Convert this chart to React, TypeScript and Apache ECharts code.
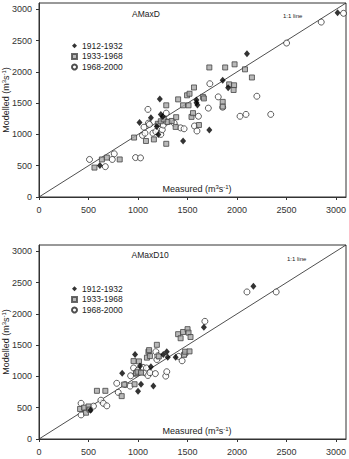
import React, { useEffect, useRef } from "react";
import * as echarts from "echarts";

// Annual maximum flows, measured vs modelled (m3/s), by period
const amaxd1912: number[][] = [
  [615, 505], [1015, 1190], [1130, 1265], [1190, 1125], [1205, 1000], [1220, 1565],
  [1230, 1320], [1250, 1285], [1455, 895], [1590, 1550], [1590, 1505], [1600, 1470],
  [1720, 1070], [1855, 1865], [1910, 1745], [2100, 2290], [3015, 2945],
];
const amaxd1933: number[][] = [
  [560, 470], [635, 600], [685, 630], [815, 600], [960, 950], [1080, 895], [1160, 920],
  [1285, 850], [1285, 1465], [1200, 1170], [1230, 1210], [1260, 1240], [1300, 1200],
  [1340, 1215], [1385, 1275], [1380, 1120], [1405, 1560], [1455, 1465], [1510, 1465],
  [1495, 1625], [1520, 1650], [1540, 1280], [1555, 1340], [1565, 1750], [1615, 1150],
  [1655, 1600], [1665, 1575], [1720, 2070], [1855, 1520], [1855, 1445], [1880, 2070],
  [1920, 1800], [1970, 1785], [1965, 1710], [1975, 2120], [2080, 2040], [2150, 1910],
];
const amaxd1968: number[][] = [
  [510, 600], [670, 485], [740, 600], [760, 690], [975, 630], [1025, 625], [1045, 985],
  [1060, 1115], [1070, 1020], [1100, 1400], [1105, 1180], [1115, 1160], [1150, 1020],
  [1180, 1045], [1230, 1000], [1245, 1075], [1255, 1150], [1285, 1340], [1290, 1200],
  [1365, 1180], [1430, 1105], [1465, 1090], [1570, 1135], [1595, 1055], [1610, 1290],
  [1710, 1420], [1725, 1810], [1810, 1600], [1855, 1435], [2030, 1290], [2090, 1320],
  [2200, 1610], [2340, 1320], [2500, 2460], [2850, 2795], [3075, 2935],
];

const amaxd10_1912: number[][] = [
  [520, 460], [840, 1050], [970, 1350], [1000, 765], [1020, 1165], [1030, 875],
  [1130, 1155], [1155, 845], [1255, 1350], [1290, 1395], [1300, 1305], [1380, 1305],
  [1665, 1785], [2165, 2440],
];
const amaxd10_1933: number[][] = [
  [415, 480], [455, 500], [475, 420], [500, 520], [510, 470], [585, 770], [670, 770],
  [835, 685], [860, 870], [965, 875], [980, 1055], [995, 1075], [955, 1245], [1010, 1240],
  [1030, 1060], [1090, 1300], [1105, 1395], [1120, 1325], [1190, 1505], [1210, 1320],
  [1112, 1420], [1405, 1675], [1430, 1610], [1455, 1710], [1500, 1755], [1510, 1700],
  [1530, 1630], [1465, 1345], [1475, 1395], [1520, 1400],
];
const amaxd10_1968: number[][] = [
  [425, 570], [425, 385], [550, 525], [625, 620], [650, 570], [685, 530], [785, 890],
  [800, 745], [870, 870], [920, 845], [925, 1010], [955, 1135], [980, 1040], [1000, 1100],
  [1050, 1145], [1070, 1060], [1085, 1135], [1100, 1015], [1120, 1060], [1175, 1045],
  [1180, 1395], [1190, 1270], [1200, 1330], [1280, 1005], [1290, 1075], [1410, 1320],
  [1445, 1250], [1475, 1360], [1675, 1880], [2100, 2350], [2395, 2350],
];

const periods = ["1912-1932", "1933-1968", "1968-2000"];
const periodIcons = ["diamond", "rect", "circle"];
const tickValues = [0, 500, 1000, 1500, 2000, 2500, 3000];
const oneToOne = [[0, 0], [3100, 3100]];

const AXIS_MAX = 3100;
const TEXT = "#222";

function makeAxis(gridIndex: number, isY: boolean) {
  return {
    type: "value",
    gridIndex,
    min: 0,
    max: AXIS_MAX,
    interval: 500,
    name: isY ? "{n|Modelled (m}{sup|3}{n|s}{sup|-1}{n|)}" : "",
    nameLocation: "middle",
    nameGap: 28,
    nameMoveOverlap: false,
    nameTextStyle: {
      color: TEXT,
      fontFamily: "Liberation Sans",
      rich: {
        n: { fontSize: 9, lineHeight: 10, color: TEXT, fontFamily: "Liberation Sans" },
        sup: { fontSize: 6, lineHeight: 6, verticalAlign: "top", color: TEXT, fontFamily: "Liberation Sans" },
      },
    },
    axisLine: { show: true, lineStyle: { color: "#333", width: 1 } },
    axisTick: { show: true, length: 3, customValues: tickValues, lineStyle: { color: "#333" } },
    splitLine: { show: false },
    axisLabel: {
      customValues: tickValues,
      formatter: (v: number) => String(v),
      fontSize: 9,
      color: "#333",
      fontFamily: "Liberation Sans",
      margin: isY ? 7 : 8,
    },
  };
}

function scatterSeries(name: string, data: number[][], idx: number) {
  const base: any = { type: "scatter", name, data, xAxisIndex: idx, yAxisIndex: idx };
  if (name === periods[0]) {
    return { ...base, symbol: "diamond", symbolSize: [6, 7], itemStyle: { color: "#000" }, z: 4 };
  }
  if (name === periods[1]) {
    return {
      ...base, symbol: "rect", symbolSize: 5,
      itemStyle: { color: "#a8a8a8", borderColor: "#444", borderWidth: 1 }, z: 3,
    };
  }
  return {
    ...base, symbol: "circle", symbolSize: 6,
    itemStyle: { color: "#fff", borderColor: "#222", borderWidth: 0.9 }, z: 2,
  };
}

function legendAt(top: number) {
  return {
    data: periods.map((name, i) => ({ name, icon: periodIcons[i] })),
    orient: "vertical",
    left: 71,
    top,
    padding: 0,
    itemWidth: 5,
    itemHeight: 5,
    itemGap: 0,
    selectedMode: false,
    textStyle: { fontSize: 8.5, lineHeight: 10.6, color: TEXT, fontFamily: "Liberation Sans" },
  };
}

function measuredLabel(x: number, y: number) {
  return {
    type: "text",
    x,
    y,
    style: {
      text: "{n|Measured (m}{sup|3}{n|s}{sup|-1}{n|)}",
      align: "center",
      verticalAlign: "middle",
      fill: TEXT,
      rich: {
        n: { fontSize: 9, lineHeight: 11, fill: TEXT, fontFamily: "Liberation Sans" },
        sup: { fontSize: 6, lineHeight: 6, verticalAlign: "top", fill: TEXT, fontFamily: "Liberation Sans" },
      },
    },
  };
}

function plainText(text: string, x: number, y: number, size: number) {
  return {
    type: "text",
    x,
    y,
    style: { text, fontSize: size, fill: TEXT, fontFamily: "Liberation Sans", verticalAlign: "middle" },
  };
}

export default function App() {
  const ref = useRef<HTMLDivElement>(null);

  useEffect(() => {
    if (!ref.current) return;
    const chart = echarts.init(ref.current, undefined, { renderer: "svg" });
    const gridBase = {
      left: 39, width: 307, height: 194, show: true,
      borderColor: "#333", borderWidth: 1, containLabel: false, outerBoundsMode: "none",
    };
    chart.setOption({
      animation: false,
      backgroundColor: "#fff",
      grid: [
        { ...gridBase, top: 3 },
        { ...gridBase, top: 245 },
      ],
      xAxis: [makeAxis(0, false), makeAxis(1, false)],
      yAxis: [makeAxis(0, true), makeAxis(1, true)],
      legend: [legendAt(40.5), legendAt(283.5)],
      series: [
        {
          type: "line", name: "1:1 line", data: oneToOne, xAxisIndex: 0, yAxisIndex: 0,
          showSymbol: false, silent: true, lineStyle: { color: "#222", width: 0.8 }, z: 1,
        },
        {
          type: "line", name: "1:1 line", data: oneToOne, xAxisIndex: 1, yAxisIndex: 1,
          showSymbol: false, silent: true, lineStyle: { color: "#222", width: 0.8 }, z: 1,
        },
        scatterSeries(periods[2], amaxd1968, 0),
        scatterSeries(periods[1], amaxd1933, 0),
        scatterSeries(periods[0], amaxd1912, 0),
        scatterSeries(periods[2], amaxd10_1968, 1),
        scatterSeries(periods[1], amaxd10_1933, 1),
        scatterSeries(periods[0], amaxd10_1912, 1),
      ],
      graphic: [
        plainText("AMaxD", 132, 13.5, 8.5),
        plainText("AMaxD10", 131.5, 255, 8.5),
        plainText("1:1 line", 283, 15.7, 6),
        plainText("1:1 line", 287, 259, 6),
        measuredLabel(197, 189),
        measuredLabel(197, 431),
      ],
    });
    return () => chart.dispose();
  }, []);

  return (
    <div
      ref={ref}
      style={{ position: "fixed", left: 0, top: 0, width: 349, height: 459, background: "#fff" }}
    />
  );
}
